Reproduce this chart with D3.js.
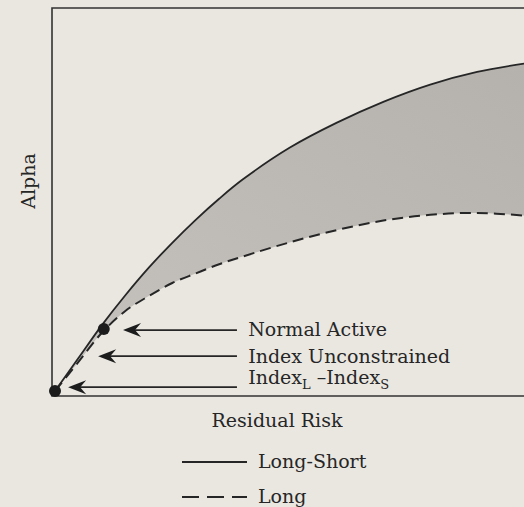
<!DOCTYPE html>
<html>
<head>
<meta charset="utf-8">
<script src="https://cdn.jsdelivr.net/npm/d3@7"></script>
<style>
  html, body { margin: 0; padding: 0; background: #eae7e1; }
  svg { display: block; }
  text { font-family: "DejaVu Serif", serif; fill: #262626; }
</style>
</head>
<body>
<svg id="chart" width="524" height="507"></svg>
<script>
// ---- data ----
const residualRisk   = [0, 0.5, 1, 1.5, 2, 2.5, 3, 3.5, 4, 5, 6, 7, 8, 9, 10];
const alphaLongShort = [0, 0.86, 1.72, 2.5, 3.22, 3.87, 4.47, 5.02, 5.52, 6.35, 7.0, 7.55, 8.0, 8.33, 8.55];
const alphaLong      = [0, 0.76, 1.52, 2.09, 2.48, 2.82, 3.07, 3.31, 3.51, 3.88, 4.2, 4.45, 4.6, 4.65, 4.58];

const pointLabels = ["Index", "Normal Active"];
const pointRisk   = [0, 1.04];
const pointAlpha  = [0, 1.62];

const annotationLabels = ["Normal Active", "Index Unconstrained", "IndexL–IndexS"];
const arrowTipRisk     = [1.45, 0.92, 0.28];
const arrowTipAlpha    = [1.59, 0.91, 0.10];
const arrowTailRisk    = 3.88;
const labelRisk        = 4.12;

const legendLabels = ["Long-Short", "Long"];
const axisLabels = { x: "Residual Risk", y: "Alpha" };

// ---- layout ----
const W = 524, H = 507;
const svg = d3.select("#chart");
const x = d3.scaleLinear().domain([0, 10]).range([55, 524]);
const y = d3.scaleLinear().domain([0, 10]).range([391, 8]);
const frameLeft = 52, frameTop = 8, frameBottom = 396;
const ink = "#262626";

const rows = residualRisk.map((r, i) => ({ r, hi: alphaLongShort[i], lo: alphaLong[i] }));

// shading gradient
const defs = svg.append("defs");
const grad = defs.append("linearGradient").attr("id", "shade")
  .attr("x1", "0%").attr("y1", "100%").attr("x2", "100%").attr("y2", "0%");
grad.append("stop").attr("offset", "0%").attr("stop-color", "#c6c3be");
grad.append("stop").attr("offset", "100%").attr("stop-color", "#b5b2ad");

const curve = d3.curveCatmullRom.alpha(0.5);
const area = d3.area()
  .x(d => x(d.r)).y0(d => y(d.lo)).y1(d => y(d.hi))
  .curve(curve);
svg.append("path").datum(rows).attr("d", area).attr("fill", "url(#shade)");

// frame
svg.append("path")
  .attr("d", `M${W},${frameTop}H${frameLeft}V${frameBottom}H${W}`)
  .attr("fill", "none").attr("stroke", "#333").attr("stroke-width", 1.6);

// curves
const lineHi = d3.line().x(d => x(d.r)).y(d => y(d.hi)).curve(curve);
const lineLo = d3.line().x(d => x(d.r)).y(d => y(d.lo)).curve(curve);
svg.append("path").datum(rows).attr("d", lineHi)
  .attr("fill", "none").attr("stroke", ink).attr("stroke-width", 1.8);
svg.append("path").datum(rows).attr("d", lineLo)
  .attr("fill", "none").attr("stroke", ink).attr("stroke-width", 2)
  .attr("stroke-dasharray", "11,6");

// points
svg.selectAll("circle.pt").data(pointRisk).join("circle")
  .attr("class", "pt")
  .attr("cx", (d) => x(d)).attr("cy", (d, i) => y(pointAlpha[i]))
  .attr("r", 6).attr("fill", "#1c1c1c");

// arrows
const labelDy = [6, 7, -3];
annotationLabels.forEach((lab, i) => {
  const tx = x(arrowTipRisk[i]), ty = y(arrowTipAlpha[i]);
  const ex = x(arrowTailRisk);
  svg.append("line").attr("x1", tx + 8).attr("y1", ty).attr("x2", ex).attr("y2", ty)
    .attr("stroke", ink).attr("stroke-width", 1.6);
  svg.append("path")
    .attr("d", `M${tx},${ty}L${tx + 18},${ty - 7}L${tx + 12},${ty}L${tx + 18},${ty + 7}Z`)
    .attr("fill", "#1c1c1c");
  const t = svg.append("text").attr("x", x(labelRisk)).attr("y", ty + labelDy[i])
    .attr("font-size", 19);
  if (lab === "IndexL–IndexS") {
    t.append("tspan").text("Index");
    t.append("tspan").attr("font-size", 13).attr("dy", 5).text("L");
    t.append("tspan").attr("dy", -5).text(" –Index");
    t.append("tspan").attr("font-size", 13).attr("dy", 5).text("S");
  } else {
    t.text(lab);
  }
});

// axis labels
svg.append("text").attr("x", 277).attr("y", 427).attr("text-anchor", "middle")
  .attr("font-size", 19).text(axisLabels.x);
svg.append("text").attr("transform", "translate(35,181) rotate(-90)")
  .attr("text-anchor", "middle").attr("font-size", 19).text(axisLabels.y);

// legend
const legY = [462, 497];
const legDash = [null, "17,8"];
legendLabels.forEach((lab, i) => {
  svg.append("line").attr("x1", 182).attr("x2", 247).attr("y1", legY[i]).attr("y2", legY[i])
    .attr("stroke", ink).attr("stroke-width", 1.8)
    .attr("stroke-dasharray", legDash[i]);
  svg.append("text").attr("x", 258).attr("y", legY[i] + 6).attr("font-size", 19).text(lab);
});
</script>
</body>
</html>
